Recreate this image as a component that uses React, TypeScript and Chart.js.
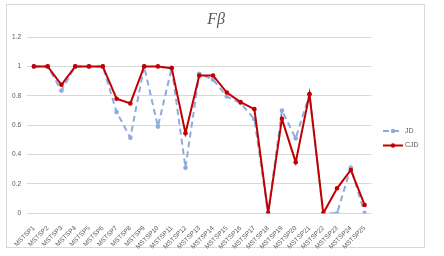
import React, { useEffect, useRef } from "react";
import { Chart, registerables } from "chart.js";

Chart.register(...registerables);

const categories = Array.from({ length: 25 }, (_, i) => `MSTSP${i + 1}`);
const seriesNames = ["JD", "CJD"];
const jdValues = [1, 1, 0.835, 1, 1, 1, 0.69, 0.515, 1, 0.59, 0.99, 0.31, 0.95, 0.91, 0.795, 0.75, 0.64, 0, 0.7, 0.51, 0.81, 0, 0, 0.31, 0];
const cjdValues = [1, 1, 0.875, 1, 1, 1, 0.78, 0.748, 1, 1, 0.988, 0.545, 0.938, 0.938, 0.822, 0.757, 0.709, 0, 0.643, 0.348, 0.811, 0, 0.17, 0.295, 0.057];
const titleText = "Fβ";

const JD_COLOR = "#8FAADC";
const CJD_COLOR = "#C00000";
const TEXT = "#595959";

const overlayPlugin = {
  id: "overlay",
  afterDraw(chart: any) {
    const ctx = chart.ctx;
    ctx.save();
    // title
    ctx.fillStyle = TEXT;
    ctx.font = "italic 16px 'Liberation Serif', 'DejaVu Serif', serif";
    ctx.textAlign = "center";
    ctx.textBaseline = "middle";
    ctx.fillText(titleText, 216, 20);
    // legend
    const dsets = chart.data.datasets;
    dsets.forEach((ds: any, i: number) => {
      const y = 131 + i * 14.5;
      ctx.strokeStyle = ds.borderColor;
      ctx.lineWidth = 2;
      ctx.setLineDash(ds.borderDash || []);
      ctx.beginPath();
      ctx.moveTo(383, y);
      ctx.lineTo(403, y);
      ctx.stroke();
      ctx.setLineDash([]);
      ctx.fillStyle = ds.borderColor;
      ctx.beginPath();
      ctx.arc(393, y, 2.2, 0, Math.PI * 2);
      ctx.fill();
      ctx.fillStyle = TEXT;
      ctx.font = "7px 'Liberation Sans', Arial, sans-serif";
      ctx.textAlign = "left";
      ctx.textBaseline = "middle";
      ctx.fillText(ds.label, 405, y);
    });
    ctx.restore();
  },
};

export default function App() {
  const ref = useRef<HTMLCanvasElement | null>(null);
  useEffect(() => {
    if (!ref.current) return;
    const chart = new Chart(ref.current, {
      type: "line",
      data: {
        labels: categories,
        datasets: [
          {
            label: seriesNames[0],
            data: jdValues,
            borderColor: JD_COLOR,
            backgroundColor: JD_COLOR,
            borderWidth: 2,
            borderDash: [6, 4],
            pointRadius: 2.3,
            pointBorderWidth: 0,
            pointBackgroundColor: JD_COLOR,
            tension: 0,
            order: 2,
          },
          {
            label: seriesNames[1],
            data: cjdValues,
            borderColor: CJD_COLOR,
            backgroundColor: CJD_COLOR,
            borderWidth: 2,
            pointRadius: 2.3,
            pointBorderWidth: 0,
            pointBackgroundColor: CJD_COLOR,
            tension: 0,
            order: 1,
          },
        ],
      },
      options: {
        responsive: false,
        animation: false,
        layout: { padding: { left: 0, right: 72.5, top: 37, bottom: 0 } },
        plugins: {
          legend: { display: false },
          title: { display: false },
          tooltip: { enabled: false },
        },
        scales: {
          x: {
            offset: true,
            grid: { display: false },
            border: { display: false },
            afterFit: (s: any) => {
              s.height = 42.7;
            },
            ticks: {
              color: TEXT,
              font: { size: 6.5, family: "'Liberation Sans', Arial, sans-serif" },
              minRotation: 45,
              maxRotation: 45,
              autoSkip: false,
              padding: 3,
            },
          },
          y: {
            min: 0,
            max: 1.2,
            grid: { color: "#d9d9d9", lineWidth: 1, drawTicks: false },
            border: { display: false },
            afterFit: (s: any) => {
              s.width = 27;
            },
            ticks: {
              stepSize: 0.2,
              color: TEXT,
              padding: 6,
              font: { size: 6.5, family: "'Liberation Sans', Arial, sans-serif" },
              callback: (v: any) => String(Math.round(Number(v) * 10) / 10),
            },
          },
        },
      },
      plugins: [overlayPlugin],
    });
    return () => chart.destroy();
  }, []);
  return (
    <div style={{ position: "absolute", left: 0, top: 0, width: 444, height: 256, background: "#fff" }}>
      <div
        style={{
          position: "absolute",
          left: 6,
          top: 4,
          width: 419,
          height: 244,
          border: "1px solid #d9d9d9",
          boxSizing: "border-box",
        }}
      />
      <canvas ref={ref} width={444} height={256} style={{ position: "absolute", left: 0, top: 0 }} />
    </div>
  );
}
